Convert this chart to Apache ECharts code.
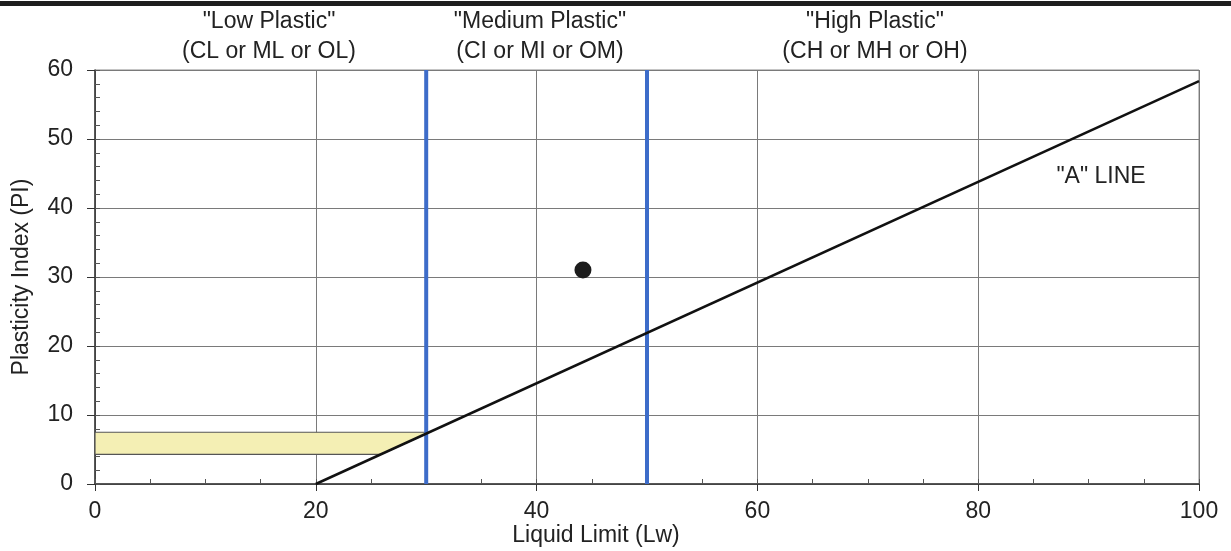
<!DOCTYPE html>
<html>
<head>
<meta charset="utf-8">
<script src="https://cdn.jsdelivr.net/npm/echarts@6/dist/echarts.min.js"></script>
<style>
html, body { margin: 0; padding: 0; background: #fff; }
#chart { width: 1231px; height: 551px; }
</style>
</head>
<body>
<div id="chart"></div>
<script>
// A line: PI = 0.73 (LL - 20)
var aLine = [[20, 0], [100, 58.4]];
// CL-ML band (hatched yellow)
var bandPoly = [[0, 4.3], [25.9, 4.3], [30.3, 7.5], [0, 7.5]];
// zone boundaries on liquid limit
var zoneLimits = [30, 50];
// sample point
var samplePoint = [[44.2, 31.0]];
var zoneTitles = [
    ['"Low Plastic"', '(CL or ML or OL)', 269],
    ['"Medium Plastic"', '(CI or MI or OM)', 540],
    ['"High Plastic"', '(CH or MH or OH)', 875]
];

var font = 'Liberation Sans, Arial, sans-serif';
var txt = '#222';

function label(x, y, s) {
    return { type: 'text', x: x, y: y, style: { text: s, font: '23px ' + font, fill: txt, align: 'center', verticalAlign: 'middle' } };
}

var graphics = [
    { type: 'rect', x: 0, y: 1, shape: { width: 1231, height: 5 }, style: { fill: '#1e1e1e' } },
    label(596, 536, 'Liquid Limit (Lw)'),
    label(1101, 177, '"A" LINE')
];
zoneTitles.forEach(function (z) {
    graphics.push(label(z[2], 22, z[0]));
    graphics.push(label(z[2], 52, z[1]));
});

var blueSeries = zoneLimits.map(function (x) {
    return {
        type: 'line', data: [[x, 0], [x, 60]], symbol: 'none', silent: true,
        lineStyle: { color: '#3d6cc9', width: 4 }, z: 4
    };
});

var myChart = echarts.init(document.getElementById('chart'));
var option = {
    animation: false,
    backgroundColor: '#fff',
    textStyle: { fontFamily: font },
    grid: { left: 95, right: 32, top: 70, bottom: 67, show: true, borderColor: '#8a8a8a', borderWidth: 1, outerBoundsMode: 'none', containLabel: false },
    graphic: graphics,
    xAxis: [{
        type: 'value', min: 0, max: 100, interval: 20,
        axisLine: { lineStyle: { color: '#333', width: 1.5 } },
        axisTick: { show: true, length: 7, lineStyle: { color: '#333' } },
        axisLabel: { fontSize: 23, color: txt, margin: 16, fontFamily: font },
        splitLine: { show: true, lineStyle: { color: '#7a7a7a', width: 1 } }
    }, {
        type: 'value', min: 0, max: 100, interval: 5, position: 'bottom',
        axisLine: { show: false },
        axisTick: { show: true, inside: true, length: 5, lineStyle: { color: '#555' } },
        axisLabel: { show: false },
        splitLine: { show: false }
    }],
    yAxis: [{
        type: 'value', min: 0, max: 60, interval: 10,
        name: 'Plasticity Index (PI)', nameLocation: 'middle', nameGap: 62,
        nameTextStyle: { fontSize: 23, color: txt, fontFamily: font },
        axisLine: { show: true, lineStyle: { color: '#333', width: 1.5 } },
        axisTick: { show: true, length: 8, lineStyle: { color: '#333' } },
        axisLabel: { fontSize: 23, color: txt, margin: 22, fontFamily: font },
        splitLine: { show: true, lineStyle: { color: '#7a7a7a', width: 1 } }
    }, {
        type: 'value', min: 0, max: 60, interval: 2, position: 'left',
        axisLine: { show: false },
        axisTick: { show: true, inside: true, length: 5, lineStyle: { color: '#555' } },
        axisLabel: { show: false },
        splitLine: { show: false }
    }],
    series: [{
        type: 'custom',
        data: [0],
        z: 2,
        renderItem: function (params, api) {
            var pts = bandPoly.map(function (p) { return api.coord(p); });
            return {
                type: 'polygon',
                shape: { points: pts },
                style: { fill: '#f4efb4', stroke: '#555', lineWidth: 1.2 }
            };
        }
    }].concat(blueSeries).concat([{
        type: 'line', data: aLine, symbol: 'none', silent: true,
        lineStyle: { color: '#111', width: 2.5 }, z: 5
    }, {
        type: 'scatter', data: samplePoint, symbolSize: 17,
        itemStyle: { color: '#1c1c1c', opacity: 1 }, z: 6
    }])
};
myChart.setOption(option);
</script>
</body>
</html>
